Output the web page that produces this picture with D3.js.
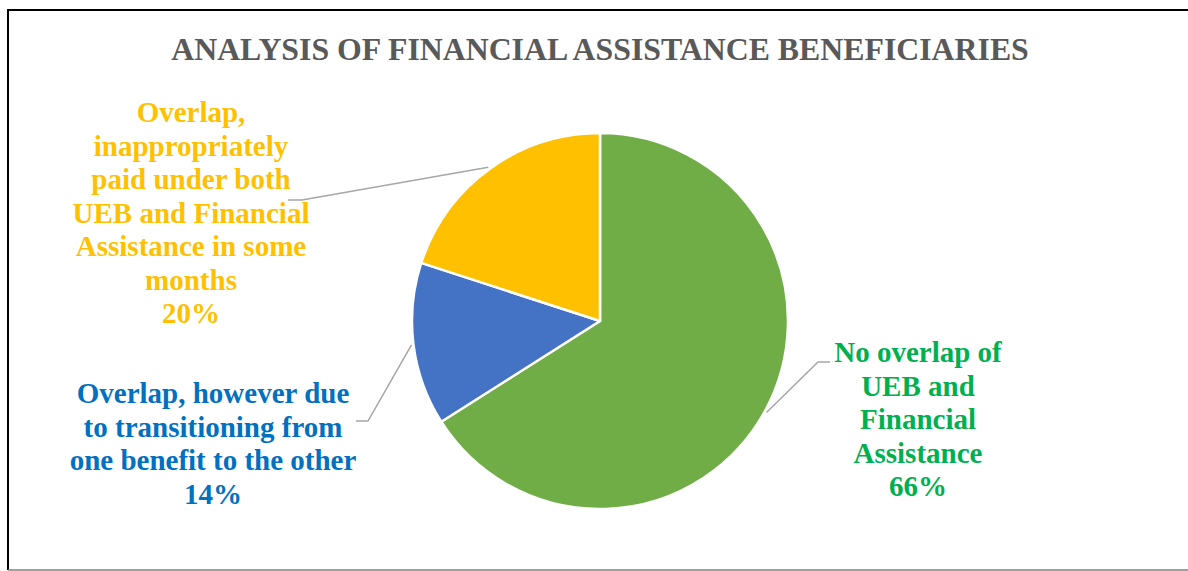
<!DOCTYPE html>
<html>
<head>
<meta charset="utf-8">
<script src="https://cdn.jsdelivr.net/npm/d3@7"></script>
<style>
  html, body { margin: 0; padding: 0; background: #fff; }
  svg { display: block; }
  text { font-family: "Liberation Serif", "Times New Roman", serif; font-weight: bold; }
</style>
</head>
<body>
<svg id="chart" width="1188" height="571"></svg>
<script>
// Beneficiary groups, in drawing order (clockwise from 12 o'clock)
const categories = [
  "No overlap of UEB and Financial Assistance",
  "Overlap, however due to transitioning from one benefit to the other",
  "Overlap, inappropriately paid under both UEB and Financial Assistance in some months"
];
const shares = [66, 14, 20];
const labelLines = [
  ["No overlap of", "UEB and", "Financial", "Assistance"],
  ["Overlap, however due", "to transitioning from", "one benefit to the other"],
  ["Overlap,", "inappropriately", "paid under both", "UEB and Financial", "Assistance in some", "months"]
];
const sliceColors = ["#70AD47", "#4472C4", "#FFC000"];
const labelColors = ["#00B050", "#0070C0", "#FFC000"];
const titleText = "ANALYSIS OF FINANCIAL ASSISTANCE BENEFICIARIES";

const W = 1188, H = 571;
const svg = d3.select("#chart");

// frame
svg.append("line").attr("x1", 8).attr("x2", W).attr("y1", 10).attr("y2", 10)
  .attr("stroke", "#000").attr("stroke-width", 2);
svg.append("line").attr("x1", 8).attr("x2", 8).attr("y1", 9).attr("y2", 570)
  .attr("stroke", "#000").attr("stroke-width", 2);
svg.append("line").attr("x1", 8).attr("x2", W).attr("y1", 570).attr("y2", 570)
  .attr("stroke", "#7f7f7f").attr("stroke-width", 1.5);

// title
svg.append("text")
  .attr("x", 600).attr("y", 60)
  .attr("text-anchor", "middle")
  .attr("fill", "#595959")
  .style("font-size", "31.8px")
  .text(titleText);

// pie
const cx = 600, cy = 321, R = 188;
const pie = d3.pie().sort(null).value(d => d.value);
const data = categories.map((c, i) => ({ name: c, value: shares[i], i }));
const arcs = pie(data);
const arc = d3.arc().innerRadius(0).outerRadius(R);

const g = svg.append("g").attr("transform", `translate(${cx},${cy})`);
g.selectAll("path.slice")
  .data(arcs)
  .join("path")
  .attr("class", "slice")
  .attr("d", arc)
  .attr("fill", d => sliceColors[d.data.i])
  .attr("stroke", "#fff")
  .attr("stroke-width", 2.5)
  .attr("stroke-linejoin", "round");

// label placement: elbow point, leader end and text anchor, in page coordinates
const labelLayout = [
  { elbow: [818, 362], end: [830, 362], tx: 918, ty: 362 },
  { elbow: [368, 421], end: [356, 421], tx: 213, ty: 403 },
  { elbow: [302, 200], end: [288, 200], tx: 191, ty: 122 }
];
const lineGap = 33.5;

const startPoint = d => {
  const a = (d.startAngle + d.endAngle) / 2;
  const r = R + 2;
  return [cx + r * Math.sin(a), cy - r * Math.cos(a)];
};

svg.selectAll("polyline.leader")
  .data(arcs)
  .join("polyline")
  .attr("class", "leader")
  .attr("points", d => {
    const L = labelLayout[d.data.i];
    return [startPoint(d), L.elbow, L.end].map(p => p.join(",")).join(" ");
  })
  .attr("fill", "none")
  .attr("stroke", "#a6a6a6")
  .attr("stroke-width", 1.5);

arcs.forEach(d => {
  const i = d.data.i;
  const L = labelLayout[i];
  const lines = labelLines[i].concat([`${d.data.value}%`]);
  const t = svg.append("text")
    .attr("text-anchor", "middle")
    .attr("fill", labelColors[i])
    .style("font-size", "29px");
  lines.forEach((ln, k) => {
    t.append("tspan").attr("x", L.tx).attr("y", L.ty + k * lineGap).text(ln);
  });
});
</script>
</body>
</html>
